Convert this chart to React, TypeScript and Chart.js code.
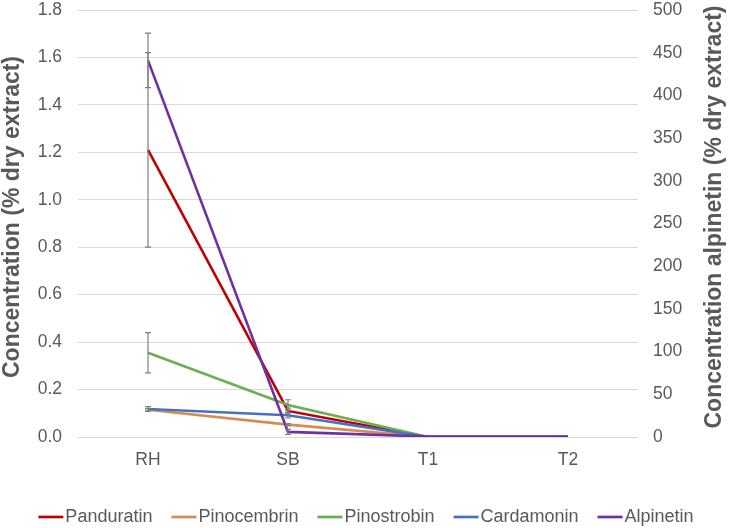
import React, { useEffect, useRef } from "react";
import { Chart, registerables } from "chart.js";

Chart.register(...registerables);

const categories = ["RH", "SB", "T1", "T2"];
const panduratin = [1.21, 0.11, 0, 0];
const panduratinErr = [0.41, 0.012, 0, 0];
const pinocembrin = [0.115, 0.052, 0, 0];
const pinocembrinErr = [0.005, 0.004, 0, 0];
const pinostrobin = [0.355, 0.135, 0, 0];
const pinostrobinErr = [0.085, 0.022, 0, 0];
const cardamonin = [0.118, 0.092, 0, 0];
const cardamoninErr = [0.01, 0.012, 0, 0];
const alpinetin = [441, 6, 0.5, 0.5];
const alpinetinErr = [32, 3, 0, 0];

const leftTitle = "Concentration (% dry extract)";
const rightTitle = "Concentration alpinetin (% dry extract)";

const FONT = "'Liberation Sans', Arial, sans-serif";
const GREY = "#595959";

const errorBarPlugin = {
  id: "errorBars",
  afterDatasetsDraw(chart: any) {
    const ctx = chart.ctx;
    ctx.save();
    ctx.strokeStyle = "#7F7F7F";
    ctx.lineWidth = 1.2;
    chart.data.datasets.forEach((ds: any, i: number) => {
      const meta = chart.getDatasetMeta(i);
      if (!ds.errors) return;
      const yScale = chart.scales[ds.yAxisID];
      meta.data.forEach((pt: any, j: number) => {
        const e = ds.errors[j];
        if (!e) return;
        const v = ds.data[j];
        const x = pt.x;
        const yTop = yScale.getPixelForValue(v + e);
        const yBot = yScale.getPixelForValue(v - e);
        ctx.beginPath();
        ctx.moveTo(x, yTop);
        ctx.lineTo(x, yBot);
        ctx.moveTo(x - 3, yTop);
        ctx.lineTo(x + 3, yTop);
        ctx.moveTo(x - 3, yBot);
        ctx.lineTo(x + 3, yBot);
        ctx.stroke();
      });
    });
    ctx.restore();
  },
};

const decorPlugin = {
  id: "decor",
  afterDraw(chart: any) {
    const ctx = chart.ctx;
    const midY = 217;
    ctx.save();
    ctx.fillStyle = GREY;
    ctx.font = `bold 23px ${FONT}`;
    ctx.textAlign = "center";
    ctx.textBaseline = "middle";
    // left title
    ctx.save();
    ctx.translate(13, midY);
    ctx.rotate(-Math.PI / 2);
    ctx.fillText(leftTitle, 0, 0);
    ctx.restore();
    // right title
    ctx.save();
    ctx.translate(715, midY);
    ctx.rotate(-Math.PI / 2);
    ctx.fillText(rightTitle, 0, 0);
    ctx.restore();

    // legend
    ctx.font = `18px ${FONT}`;
    const lineW = 25;
    const gapText = 2;
    const gapItem = 19;
    const items = chart.data.datasets.map((ds: any) => ({
      label: ds.label,
      color: ds.borderColor,
      w: ctx.measureText(ds.label).width,
    }));
    const total =
      items.reduce((s: number, it: any) => s + lineW + gapText + it.w, 0) +
      gapItem * (items.length - 1);
    let x = chart.width / 2 - total / 2;
    const y = 517;
    ctx.textAlign = "left";
    items.forEach((it: any) => {
      ctx.strokeStyle = it.color;
      ctx.lineWidth = 2.7;
      ctx.beginPath();
      ctx.moveTo(x, y);
      ctx.lineTo(x + lineW, y);
      ctx.stroke();
      x += lineW + gapText;
      ctx.fillStyle = GREY;
      ctx.fillText(it.label, x, y);
      x += it.w + gapItem;
    });
    ctx.restore();
  },
};

export default function App() {
  const ref = useRef<HTMLCanvasElement | null>(null);
  useEffect(() => {
    document.body.style.margin = "0";
    const mk = (label: string, data: number[], errors: number[], color: string, axis: string, order: number) => ({
      label,
      data,
      errors,
      borderColor: color,
      backgroundColor: color,
      borderWidth: 2.6,
      pointRadius: 0,
      pointHoverRadius: 0,
      tension: 0,
      yAxisID: axis,
      order,
    });
    const chart = new Chart(ref.current as HTMLCanvasElement, {
      type: "line",
      data: {
        labels: categories,
        datasets: [
          mk("Panduratin", panduratin, panduratinErr, "#C00000", "y", 4),
          mk("Pinocembrin", pinocembrin, pinocembrinErr, "#D98B4F", "y", 3),
          mk("Pinostrobin", pinostrobin, pinostrobinErr, "#6AAF4F", "y", 2),
          mk("Cardamonin", cardamonin, cardamoninErr, "#4472C4", "y", 1),
          mk("Alpinetin", alpinetin, alpinetinErr, "#7030A0", "y1", 0),
        ] as any,
      },
      plugins: [errorBarPlugin, decorPlugin],
      options: {
        animation: false,
        responsive: false,
        layout: { padding: 0 },
        plugins: {
          tooltip: { enabled: false },
          legend: { display: false },
        },
        scales: {
          x: {
            offset: true,
            grid: { display: false, drawTicks: false },
            border: { display: false },
            ticks: { color: GREY, font: { family: FONT, size: 17.5 }, padding: 13, maxRotation: 0 },
            afterFit: (s: any) => {
              s.height = 91;
              s.paddingLeft = 0;
              s.paddingRight = 0;
            },
          },
          y: {
            position: "left",
            min: 0,
            max: 1.8,
            ticks: {
              stepSize: 0.2,
              color: GREY,
              font: { family: FONT, size: 17.5 },
              padding: 16,
              callback: (v: any) => Number(v).toFixed(1),
            },
            grid: { color: "#D9D9D9", drawTicks: false, lineWidth: 1 },
            border: { display: false },
            afterFit: (s: any) => {
              s.width = 78;
              s.paddingTop = 10;
              s.paddingBottom = 0;
            },
          },
          y1: {
            position: "right",
            min: 0,
            max: 500,
            ticks: {
              stepSize: 50,
              color: GREY,
              font: { family: FONT, size: 17.5 },
              padding: 15,
            },
            grid: { display: false, drawTicks: false },
            border: { display: false },
            afterFit: (s: any) => {
              s.width = 94;
              s.paddingTop = 10;
              s.paddingBottom = 0;
            },
          },
        },
      } as any,
    });
    return () => chart.destroy();
  }, []);
  return <canvas ref={ref} width={732} height={528} style={{ display: "block" }} />;
}
